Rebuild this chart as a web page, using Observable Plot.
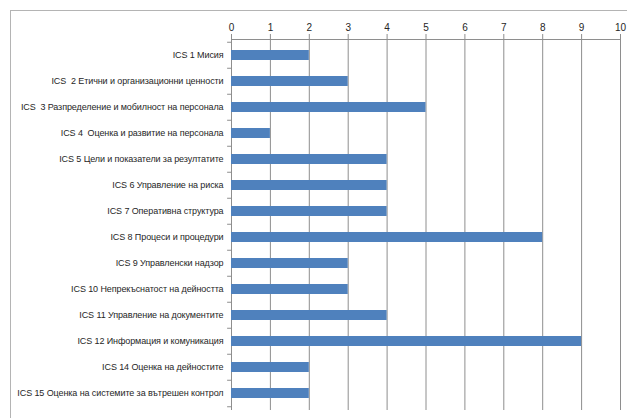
<!DOCTYPE html>
<html><head><meta charset="utf-8">
<script src="https://cdn.jsdelivr.net/npm/d3@7"></script>
<script src="https://cdn.jsdelivr.net/npm/@observablehq/plot@0.6"></script>
<style>
body{margin:0;background:#fff;overflow:hidden}
#wrap{position:relative;width:627px;height:418px;overflow:hidden}
#border{position:absolute;left:10px;top:10px;width:700px;height:500px;border:1.5px solid #b4b4b4;box-sizing:border-box}
#chart{position:absolute;left:0;top:0}
#chart svg text{letter-spacing:-0.1px}
</style></head><body>
<div id="wrap"><div id="border"></div><div id="chart"></div></div>
<script>
const categories = [
  "ICS 1 Мисия",
  "ICS  2 Етични и организационни ценности",
  "ICS  3 Разпределение и мобилност на персонала",
  "ICS 4  Оценка и развитие на персонала",
  "ICS 5 Цели и показатели за резултатите",
  "ICS 6 Управление на риска",
  "ICS 7 Оперативна структура",
  "ICS 8 Процеси и процедури",
  "ICS 9 Управленски надзор",
  "ICS 10 Непрекъснатост на дейността",
  "ICS 11 Управление на документите",
  "ICS 12 Информация и комуникация",
  "ICS 14 Оценка на дейностите",
  "ICS 15 Оценка на системите за вътрешен контрол"
];
const values = [2, 3, 5, 1, 4, 4, 4, 8, 3, 3, 4, 9, 2, 2];
const xTicks = [0, 1, 2, 3, 4, 5, 6, 7, 8, 9, 10];

const data = categories.map((c, i) => ({category: c, value: values[i]}));
const gridColor = "#8e8e8e";
const textColor = "#262626";
const last = categories[categories.length - 1];

const plot = Plot.plot({
  width: 627,
  height: 418,
  marginTop: 39,
  marginLeft: 231,
  marginRight: 7,
  marginBottom: 8,
  style: {fontFamily: "'Liberation Sans', Arial, sans-serif", fontSize: "9px", color: textColor, background: "transparent"},
  x: {domain: [0, 10], axis: null},
  y: {domain: categories, paddingInner: 0.6, paddingOuter: 0.3, axis: null},
  marks: [
    Plot.gridX(xTicks, {stroke: gridColor, strokeOpacity: 1}),
    Plot.axisX(xTicks, {anchor: "top", tickSize: 6, tickPadding: 3, stroke: gridColor, fill: textColor, label: null, fontSize: 10, tickFormat: d => String(d)}),
    Plot.frame({anchor: "top", stroke: gridColor}),
    Plot.ruleX([0], {stroke: gridColor}),
    Plot.barX(data, {y: "category", x: "value", fill: "#4F81BD"}),
    Plot.axisY({tickSize: 0, tickPadding: 8, label: null, fill: textColor}),
    Plot.ruleY(categories, {y: d => d, x1: -0.1, x2: 0, dy: -13.25, stroke: gridColor}),
    Plot.ruleY([last], {y: d => d, x1: -0.1, x2: 0, dy: 13.25, stroke: gridColor})
  ]
});
document.getElementById("chart").appendChild(plot);
</script>
</body></html>
